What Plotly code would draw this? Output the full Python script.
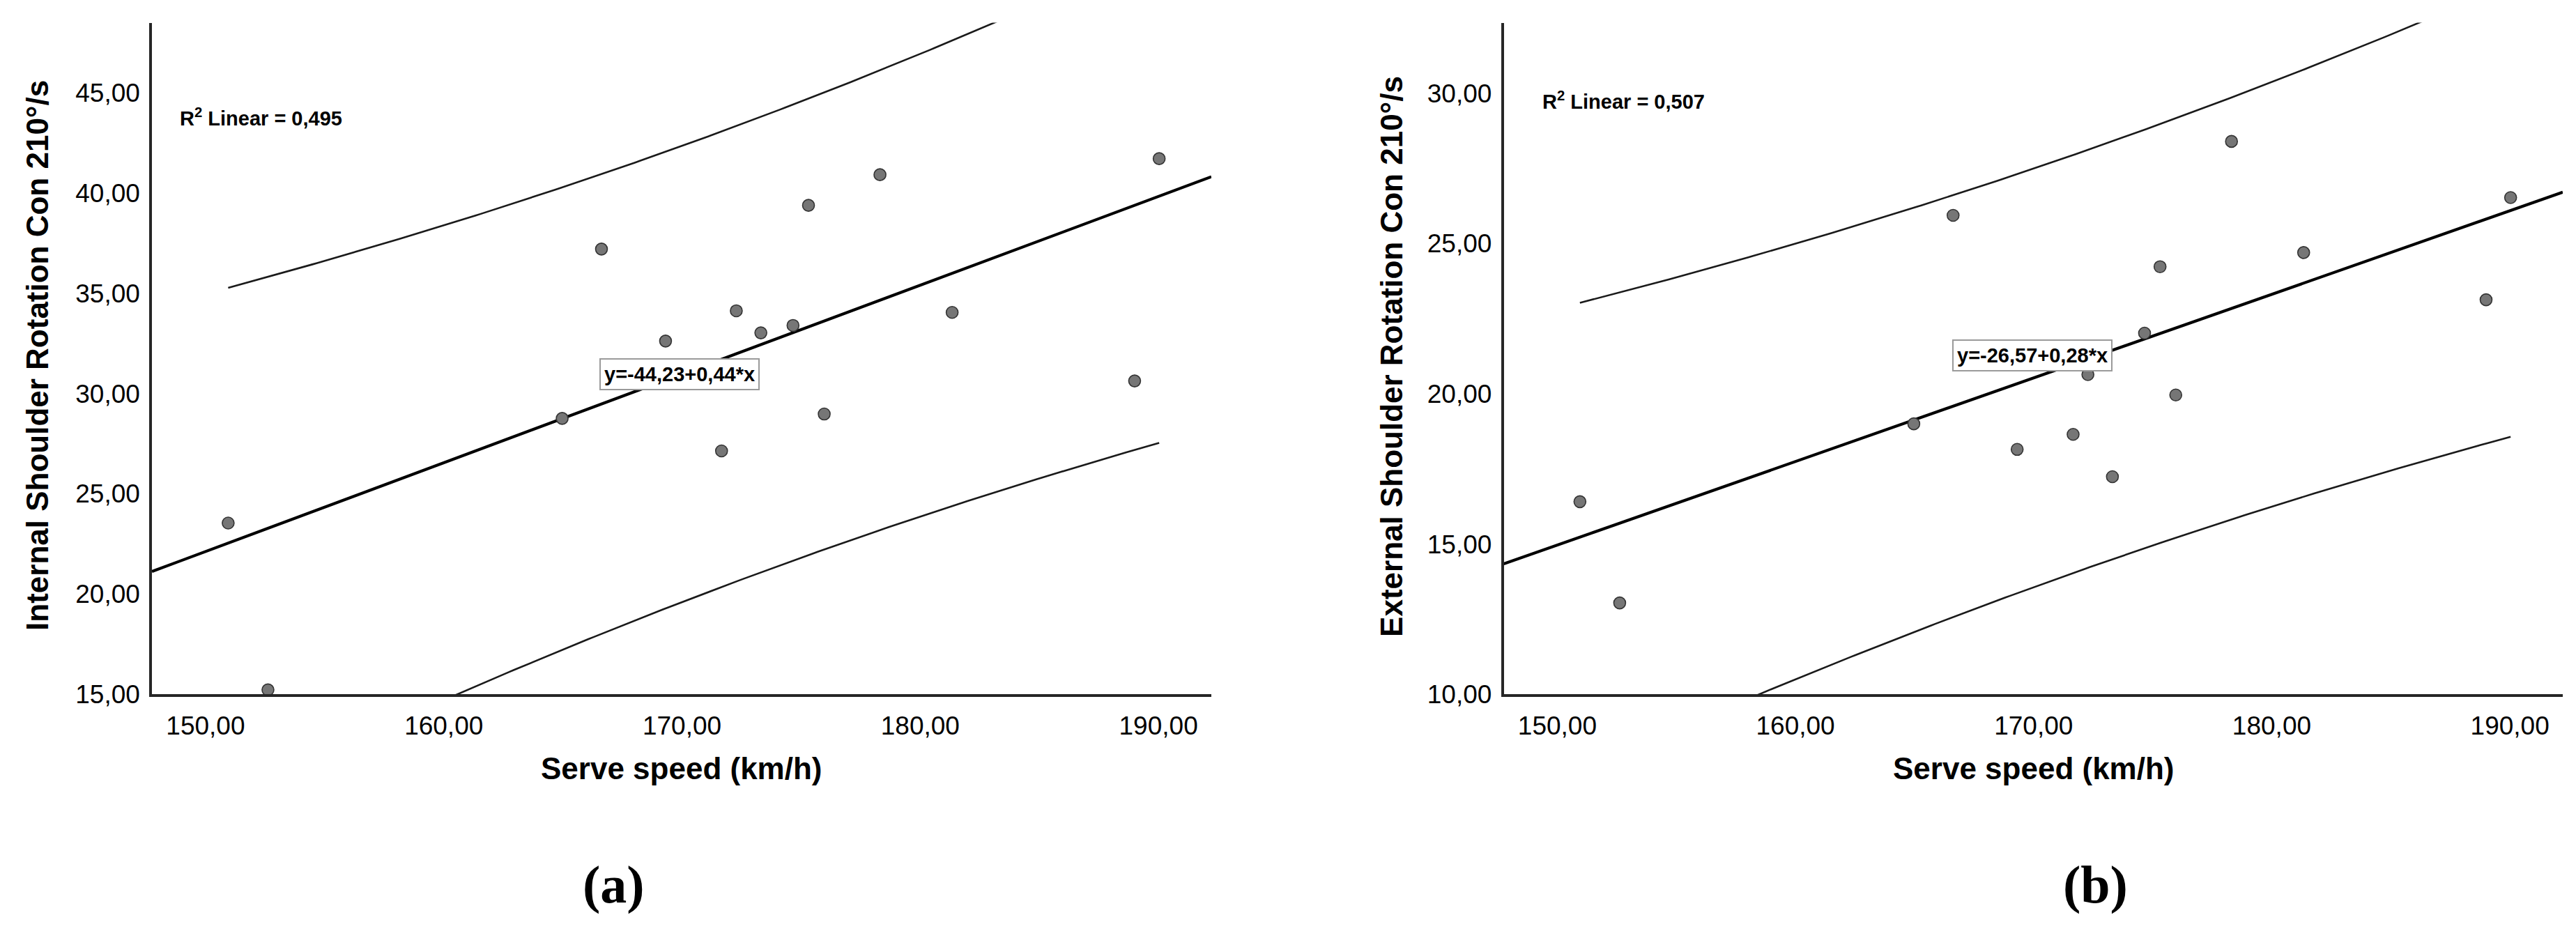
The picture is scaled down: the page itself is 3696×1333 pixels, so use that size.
import numpy as np
import plotly.graph_objects as go

# ---------------- data ----------------
serve_speed = [150.95, 152.62, 164.97, 166.62, 169.31, 171.66, 172.28, 173.31,
               174.66, 175.31, 175.97, 178.31, 181.34, 189.00, 190.03]
internal_rot = [23.54, 15.22, 28.76, 37.21, 32.62, 27.14, 34.13, 33.03,
                33.40, 39.39, 28.98, 40.92, 34.05, 30.63, 41.72]
external_rot = [16.41, 13.04, 19.00, 25.94, 18.15, 18.65, 20.64, 17.24,
                22.02, 24.23, 19.96, 28.40, 24.70, 23.13, 26.53]

x_ticks = [150, 160, 170, 180, 190]
x_tick_labels = ["150,00", "160,00", "170,00", "180,00", "190,00"]
y_ticks_a = [15, 20, 25, 30, 35, 40, 45]
y_tick_labels_a = ["15,00", "20,00", "25,00", "30,00", "35,00", "40,00", "45,00"]
y_ticks_b = [10, 15, 20, 25, 30]
y_tick_labels_b = ["10,00", "15,00", "20,00", "25,00", "30,00"]

x_title = "Serve speed (km/h)"
y_title_a = "Internal Shoulder Rotation Con 210°/s"
y_title_b = "External Shoulder Rotation Con 210°/s"
r2_a = "R<sup>2</sup> Linear = 0,495"
r2_b = "R<sup>2</sup> Linear = 0,507"
eq_a = "y=-44,23+0,44*x"
eq_b = "y=-26,57+0,28*x"
panel_labels = ["(a)", "(b)"]

T_975_DF13 = 2.160  # Student t quantile for the 95% individual prediction interval

# ---------------- geometry ----------------
W, H = 3696, 1333
X_RANGE = [147.75, 192.22]
Y_RANGE_A = [15, 48.5]
Y_RANGE_B = [10, 32.35]

INK = "#1a1a1a"
SANS = "Liberation Sans, Arial, sans-serif"
SERIF = "Liberation Serif, Times New Roman, serif"


def fit_and_band(x, y):
    x = np.asarray(x, float)
    y = np.asarray(y, float)
    n = len(x)
    b, a = np.polyfit(x, y, 1)
    resid = y - (a + b * x)
    s = np.sqrt(np.sum(resid ** 2) / (n - 2))
    xm = x.mean()
    sxx = np.sum((x - xm) ** 2)
    xs = np.linspace(x.min(), x.max(), 200)
    yhat = a + b * xs
    half = T_975_DF13 * s * np.sqrt(1 + 1 / n + (xs - xm) ** 2 / sxx)
    return a, b, xs, yhat - half, yhat + half


fig = go.Figure()

panels = [
    (internal_rot, "x", "y"),
    (external_rot, "x2", "y2"),
]
for yvals, xa, ya in panels:
    a, b, xs, lo, hi = fit_and_band(serve_speed, yvals)
    xl = np.array(X_RANGE)
    fig.add_trace(go.Scatter(x=xs, y=hi, mode="lines", xaxis=xa, yaxis=ya,
                             line=dict(color=INK, width=2.6), showlegend=False,
                             hoverinfo="skip"))
    fig.add_trace(go.Scatter(x=xs, y=lo, mode="lines", xaxis=xa, yaxis=ya,
                             line=dict(color=INK, width=2.6), showlegend=False,
                             hoverinfo="skip"))
    fig.add_trace(go.Scatter(x=xl, y=a + b * xl, mode="lines", xaxis=xa, yaxis=ya,
                             line=dict(color="#000000", width=4.2), showlegend=False,
                             hoverinfo="skip"))
    fig.add_trace(go.Scatter(x=serve_speed, y=yvals, mode="markers", xaxis=xa, yaxis=ya,
                             marker=dict(size=17, color="#767676",
                                         line=dict(color="#333333", width=1.6)),
                             cliponaxis=False, showlegend=False))

axis_common = dict(showline=True, linecolor="#262626", linewidth=3.5,
                   showgrid=False, zeroline=False, ticks="", mirror=False,
                   tickfont=dict(family=SANS, size=37, color="#000000"))

fig.update_layout(
    width=W, height=H,
    margin=dict(l=0, r=0, t=0, b=0),
    paper_bgcolor="white", plot_bgcolor="white",
    xaxis=dict(domain=[210 / W, 1730 / W], range=X_RANGE, anchor="y",
               tickvals=x_ticks, ticktext=x_tick_labels, ticklabelstandoff=10,
               **axis_common),
    yaxis=dict(domain=[1 - 1004 / H, 1 - 25 / H], range=Y_RANGE_A, anchor="x",
               tickvals=y_ticks_a, ticktext=y_tick_labels_a, ticklabelstandoff=6,
               **axis_common),
    xaxis2=dict(domain=[2149.5 / W, 3669 / W], range=X_RANGE, anchor="y2",
                tickvals=x_ticks, ticktext=x_tick_labels, ticklabelstandoff=10,
                **axis_common),
    yaxis2=dict(domain=[1 - 1004 / H, 1 - 25 / H], range=Y_RANGE_B, anchor="x2",
                tickvals=y_ticks_b, ticktext=y_tick_labels_b, ticklabelstandoff=6,
                **axis_common),
)

ann = []
# R² labels
ann.append(dict(x=148.85, y=43.78, xref="x", yref="y", text=f"<b>{r2_a}</b>", showarrow=False,
                xanchor="left", yanchor="middle",
                font=dict(family=SANS, size=29, color="#000000")))
ann.append(dict(x=149.33, y=29.77, xref="x2", yref="y2", text=f"<b>{r2_b}</b>", showarrow=False,
                xanchor="left", yanchor="middle",
                font=dict(family=SANS, size=29, color="#000000")))
# equation boxes
ann.append(dict(x=169.9, y=30.95, xref="x", yref="y", text=f"<b>{eq_a}</b>", showarrow=False,
                xanchor="center", yanchor="middle", bgcolor="white",
                bordercolor="#9a9a9a", borderwidth=2, borderpad=5,
                font=dict(family=SANS, size=29, color="#000000")))
ann.append(dict(x=169.95, y=21.28, xref="x2", yref="y2", text=f"<b>{eq_b}</b>", showarrow=False,
                xanchor="center", yanchor="middle", bgcolor="white",
                bordercolor="#9a9a9a", borderwidth=2, borderpad=5,
                font=dict(family=SANS, size=29, color="#000000")))
# axis titles
for cx in (970, 2909.5):
    ann.append(dict(x=cx / W, y=1 - 1112 / H, xref="paper", yref="paper", text=f"<b>{x_title}</b>",
                    showarrow=False, xanchor="center", yanchor="middle",
                    font=dict(family=SANS, size=44, color="#000000")))
ann.append(dict(x=46 / W, y=1 - 510 / H, xref="paper", yref="paper", text=f"<b>{y_title_a}</b>",
                showarrow=False, textangle=-90, xanchor="center", yanchor="middle",
                font=dict(family=SANS, size=44, color="#000000")))
ann.append(dict(x=1989 / W, y=1 - 512 / H, xref="paper", yref="paper", text=f"<b>{y_title_b}</b>",
                showarrow=False, textangle=-90, xanchor="center", yanchor="middle",
                font=dict(family=SANS, size=44, color="#000000")))
# panel labels
for cx, lab in zip((872, 2998), panel_labels):
    ann.append(dict(x=cx / W, y=1 - 1282 / H, xref="paper", yref="paper", text=f"<b>{lab}</b>",
                    showarrow=False, xanchor="center", yanchor="middle",
                    font=dict(family=SERIF, size=76, color="#000000")))

fig.update_layout(annotations=ann)
fig.write_html("out.html")
